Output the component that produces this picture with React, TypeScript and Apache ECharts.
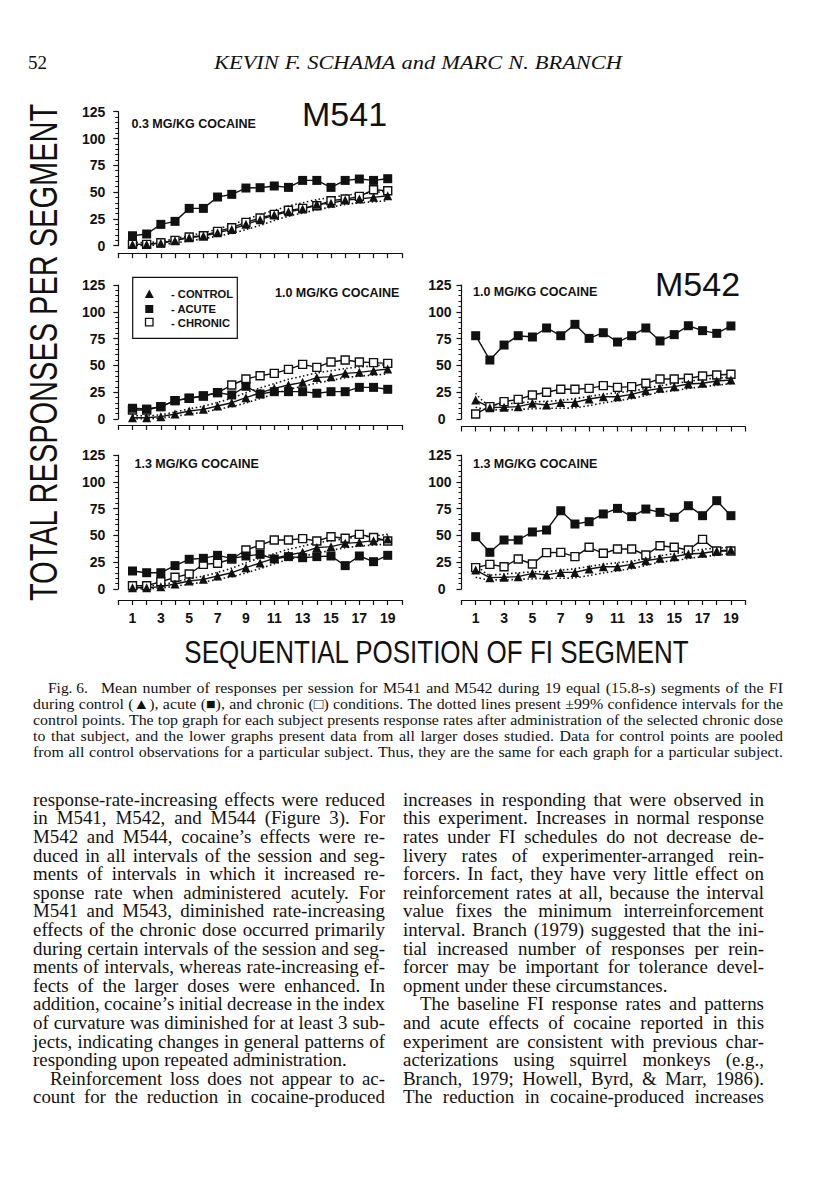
import React, { useEffect, useRef } from "react";
import * as echarts from "echarts";

// ---------- DATA ----------
const segments = [1, 2, 3, 4, 5, 6, 7, 8, 9, 10, 11, 12, 13, 14, 15, 16, 17, 18, 19];
const xTickLabels = ["1", "3", "5", "7", "9", "11", "13", "15", "17", "19"];
const yTickStep = 25;
const yMax = 125;

// M541 (control pooled, identical in each M541 graph)
const m541Control = [1.2, 1.2, 2.2, 4.7, 7.5, 9.0, 12.1, 15.2, 19.9, 24.3, 28.6, 31.7, 34.2, 38.6, 39.5, 42.6, 43.5, 45.1, 46.6];
const m541Upper = [3, 3, 4, 6.5, 9.5, 12, 15.5, 19.5, 24.5, 29, 33, 37, 40, 43, 45, 47, 48.5, 49.5, 51];
const m541Lower = [0, 0, 1, 2.5, 4.5, 6.5, 9, 11.5, 15, 19, 23.5, 27.5, 30.5, 33.5, 36, 38.5, 40, 41, 42];
const m541Acute03 = [9.3, 10.9, 19.9, 22.7, 34.8, 34.8, 45.4, 47.9, 53.8, 54.1, 55.7, 54.4, 60.9, 60.9, 54.4, 60.9, 62.2, 60.9, 62.5];
const m541Chronic03 = [1.2, 1.2, 2.8, 5, 8.1, 9.3, 13.4, 16.8, 21.8, 25.8, 29.2, 33, 34.8, 37.3, 42, 43.5, 46, 52.2, 51.3];
const m541Acute10 = [10, 9.3, 11.5, 17.1, 19.3, 21.5, 24.6, 22.4, 30.5, 23.3, 25.5, 25.5, 25.5, 24, 25.5, 25.5, 29.5, 29.5, 27.7];
const m541Chronic10 = [8.4, 8.4, 11.5, 17.1, 19.3, 21.5, 24.6, 31.7, 37.3, 40.4, 42.6, 46.3, 51, 48.2, 53.2, 55, 53.2, 52.6, 51.9];
const m541Acute13 = [16.8, 15.2, 15.2, 21.8, 27.7, 28.6, 31.4, 28.6, 30.8, 32.3, 28, 30.2, 29.2, 30.2, 30.8, 21.8, 30.8, 25.5, 31.4];
const m541Chronic13 = [3.1, 3.1, 6.8, 10.9, 14, 23, 24, 28, 36.4, 41, 45.7, 45.7, 47, 44.8, 48.8, 47.3, 51, 48, 44.8];

// M542
const m542Control = [17.7, 10.6, 10.9, 11.5, 14.6, 13, 15.5, 15.5, 18.7, 20.8, 20.8, 23, 26.4, 28.6, 30.2, 32.6, 33.3, 35.4, 36.4];
const m542Upper = [24, 13, 14, 15, 16, 16.5, 17.5, 19, 21, 23, 24.5, 26, 28.5, 31, 33, 35, 37, 38, 39];
const m542Lower = [11, 8.5, 8.5, 9, 9.5, 10, 10, 10.5, 12.5, 15, 17, 19, 22, 25, 26.5, 28.5, 30, 31.5, 33];
const m542Acute10 = [77.7, 55, 69, 77.7, 76.5, 84.9, 77.7, 88.3, 75.2, 80.5, 71.8, 77.7, 84.9, 72.8, 78.7, 87, 82.4, 79.9, 86.8];
const m542Chronic10 = [4.7, 11.5, 16.2, 18.3, 22.4, 24.9, 27.7, 27.7, 28.6, 31.1, 29.5, 30.2, 33.3, 37.3, 37.3, 38, 40.1, 41, 41.7];
const m542Acute13 = [48.8, 34.2, 45.7, 45.7, 53.2, 55, 73, 60.6, 62.8, 70, 75.2, 67.5, 74.6, 71.5, 66.9, 77.7, 68.4, 82.4, 68.4];
const m542Chronic13 = [19.9, 23, 20.8, 28, 23.3, 33.9, 34.2, 30.2, 38.9, 33.3, 37.3, 37.3, 31.7, 40.4, 38.9, 36.4, 46.3, 35.4, 35.4];

const seriesNames = ["CONTROL", "ACUTE", "CHRONIC"];
const panelTitles = ["0.3 MG/KG COCAINE", "1.0 MG/KG COCAINE", "1.3 MG/KG COCAINE", "1.0 MG/KG COCAINE", "1.3 MG/KG COCAINE"];
const subjectLabels = ["M541", "M542"];
const yAxisTitle = "TOTAL RESPONSES PER SEGMENT";
const xAxisTitle = "SEQUENTIAL POSITION OF FI SEGMENT";

// ---------- PAGE TEXT ----------
const pageNumber = "52";
const runningHead = "KEVIN F. SCHAMA and MARC N. BRANCH";
const captionLead = "Fig. 6.";
const captionLines = [
  "Mean number of responses per session for M541 and M542 during 19 equal (15.8-s) segments of the FI",
  "during control (\u25B2), acute (\u25A0), and chronic (\u25A1) conditions. The dotted lines present \u00B199% confidence intervals for the",
  "control points. The top graph for each subject presents response rates after administration of the selected chronic dose",
  "to that subject, and the lower graphs present data from all larger doses studied. Data for control points are pooled",
  "from all control observations for a particular subject. Thus, they are the same for each graph for a particular subject.",
];
const leftColumn = [
  "response-rate-increasing effects were reduced",
  "in M541, M542, and M544 (Figure 3). For",
  "M542 and M544, cocaine\u2019s effects were re-",
  "duced in all intervals of the session and seg-",
  "ments of intervals in which it increased re-",
  "sponse rate when administered acutely. For",
  "M541 and M543, diminished rate-increasing",
  "effects of the chronic dose occurred primarily",
  "during certain intervals of the session and seg-",
  "ments of intervals, whereas rate-increasing ef-",
  "fects of the larger doses were enhanced. In",
  "addition, cocaine\u2019s initial decrease in the index",
  "of curvature was diminished for at least 3 sub-",
  "jects, indicating changes in general patterns of",
  "responding upon repeated administration.",
  "Reinforcement loss does not appear to ac-",
  "count for the reduction in cocaine-produced",
];
const leftIndent = [15];
const leftParaEnd = [14];
const rightColumn = [
  "increases in responding that were observed in",
  "this experiment. Increases in normal response",
  "rates under FI schedules do not decrease de-",
  "livery rates of experimenter-arranged rein-",
  "forcers. In fact, they have very little effect on",
  "reinforcement rates at all, because the interval",
  "value fixes the minimum interreinforcement",
  "interval. Branch (1979) suggested that the ini-",
  "tial increased number of responses per rein-",
  "forcer may be important for tolerance devel-",
  "opment under these circumstances.",
  "The baseline FI response rates and patterns",
  "and acute effects of cocaine reported in this",
  "experiment are consistent with previous char-",
  "acterizations using squirrel monkeys (e.g.,",
  "Branch, 1979; Howell, Byrd, & Marr, 1986).",
  "The reduction in cocaine-produced increases",
];
const rightIndent = [11];
const rightParaEnd = [10];

// ---------- STYLE ----------
const SANS = '"Liberation Sans", Arial, Helvetica, sans-serif';
const SERIF = '"Liberation Serif", "Times New Roman", serif';
const INK = "#111";

function pts(vals: number[]) {
  return segments.map((s, i) => [s, vals[i]]);
}

let measureCtx: CanvasRenderingContext2D | null = null;
function measure(text: string, font: string) {
  if (!measureCtx) measureCtx = document.createElement("canvas").getContext("2d");
  measureCtx!.font = font;
  return measureCtx!.measureText(text).width;
}

// Places each word of a line; justified lines are spread between x0 and x1.
function lineWords(
  text: string,
  x0: number,
  x1: number,
  y: number,
  size: number,
  justify: boolean,
  hScale = 1,
  italic = false
) {
  const font = `${italic ? "italic " : ""}${size}px "Liberation Serif"`;
  const words = text.split(" ");
  const widths = words.map((w) => measure(w, font));
  const total = widths.reduce((a, b) => a + b, 0);
  const space = measure(" ", font);
  let s = hScale;
  let gap = space * s;
  if (justify && words.length > 1) {
    const minGap = space * 0.75;
    gap = (x1 - x0 - total * s) / (words.length - 1);
    if (gap < minGap) {
      gap = minGap;
      s = (x1 - x0 - minGap * (words.length - 1)) / total;
    }
  }
  let x = x0;
  return words.map((w, i) => {
    const el = {
      type: "text",
      x,
      y,
      scaleX: s,
      silent: true,
      style: {
        text: w,
        fill: INK,
        fontSize: size,
        fontFamily: SERIF,
        fontStyle: italic ? "italic" : "normal",
        align: "left",
        verticalAlign: "middle",
      },
    };
    x += widths[i] * s + gap;
    return el;
  });
}

function buildOption() {
  const panels = [
    { left: 118.3, top: 111.7, xOffset: 7.5, showX: false, right: false, ctrl: m541Control, up: m541Upper, lo: m541Lower, acute: m541Acute03, chronic: m541Chronic03 },
    { left: 118.3, top: 285, xOffset: 6, showX: false, right: false, ctrl: m541Control, up: m541Upper, lo: m541Lower, acute: m541Acute10, chronic: m541Chronic10 },
    { left: 118.3, top: 455, xOffset: 11, showX: true, right: false, ctrl: m541Control, up: m541Upper, lo: m541Lower, acute: m541Acute13, chronic: m541Chronic13 },
    { left: 461.5, top: 285, xOffset: 7.5, showX: false, right: true, ctrl: m542Control, up: m542Upper, lo: m542Lower, acute: m542Acute10, chronic: m542Chronic10 },
    { left: 461.5, top: 455, xOffset: 11, showX: true, right: true, ctrl: m542Control, up: m542Upper, lo: m542Lower, acute: m542Acute13, chronic: m542Chronic13 },
  ];

  const grid: any[] = [];
  const xAxis: any[] = [];
  const yAxis: any[] = [];
  const series: any[] = [];
  const axisLineStyle = { color: INK, width: 1.2 };

  panels.forEach((p, i) => {
    grid.push({ left: p.left, top: p.top, width: 283.6, height: 134 });
    xAxis.push({
      gridIndex: i,
      type: "value",
      min: 0,
      max: 20,
      interval: 1,
      offset: p.xOffset,
      axisLine: { show: true, onZero: false, lineStyle: axisLineStyle },
      axisTick: { show: true, length: 5, lineStyle: axisLineStyle },
      splitLine: { show: false },
      axisLabel: {
        show: p.showX,
        margin: 11,
        fontSize: 14,
        fontWeight: "bold",
        fontFamily: SANS,
        color: INK,
        formatter: (v: number) => (xTickLabels.indexOf(String(v)) >= 0 ? String(v) : ""),
      },
    });
    yAxis.push({
      gridIndex: i,
      type: "value",
      min: 0,
      max: yMax,
      interval: yTickStep,
      axisLine: { show: true, lineStyle: axisLineStyle },
      axisTick: { show: true, length: 5, lineStyle: axisLineStyle },
      minorTick: { show: true, splitNumber: 5, length: 3, lineStyle: { color: INK, width: 1 } },
      splitLine: { show: false },
      minorSplitLine: { show: false },
      axisLabel: {
        margin: p.right ? 10 : 13,
        fontSize: 14,
        fontWeight: "bold",
        fontFamily: SANS,
        color: INK,
        formatter: (v: number) => (p.right && v === 0 ? "{z|0}" : String(v)),
        rich: { z: { fontSize: 14, fontWeight: "bold", fontFamily: SANS, color: INK, padding: [0, 6, 0, 0] } },
      },
    });
    const common = { xAxisIndex: i, yAxisIndex: i, silent: true };
    series.push({ ...common, type: "line", name: "CI upper", data: pts(p.up), symbol: "none", smooth: 0.3, lineStyle: { color: INK, width: 1.6, type: [1.5, 2.5] } });
    series.push({ ...common, type: "line", name: "CI lower", data: pts(p.lo), symbol: "none", smooth: 0.3, lineStyle: { color: INK, width: 1.6, type: [1.5, 2.5] } });
    series.push({ ...common, type: "line", name: seriesNames[2], data: pts(p.chronic), symbol: "rect", symbolSize: 8, lineStyle: { color: INK, width: 1.4 }, itemStyle: { color: "#fff", borderColor: INK, borderWidth: 1.4 } });
    series.push({ ...common, type: "line", name: seriesNames[1], data: pts(p.acute), symbol: "rect", symbolSize: 9, lineStyle: { color: INK, width: 1.4 }, itemStyle: { color: INK } });
    series.push({ ...common, type: "line", name: seriesNames[0], data: pts(p.ctrl), symbol: "triangle", symbolSize: 9, lineStyle: { color: INK, width: 1.4 }, itemStyle: { color: INK } });
  });

  const g: any[] = [];
  const sansText = (text: string, x: number, y: number, size: number, weight = "bold", align = "left") => ({
    type: "text",
    x,
    y,
    silent: true,
    style: { text, fill: INK, fontSize: size, fontWeight: weight, fontFamily: SANS, align, verticalAlign: "middle" },
  });

  // panel titles
  const titlePos = [
    [131.5, 124],
    [275, 293],
    [134.5, 464],
    [473, 292],
    [473, 464],
  ];
  panelTitles.forEach((t, i) => g.push(sansText(t, titlePos[i][0], titlePos[i][1], 12.5)));
  // subject labels
  g.push(sansText(subjectLabels[0], 302, 114, 34, "normal"));
  g.push(sansText(subjectLabels[1], 655, 284, 34, "normal"));

  // legend box
  g.push({ type: "rect", silent: true, shape: { x: 132.7, y: 277.3, width: 104.6, height: 61 }, style: { fill: "#fff", stroke: INK, lineWidth: 1.2 } });
  g.push({ type: "polygon", silent: true, shape: { points: [[149.3, 289.5], [144.8, 298], [153.8, 298]] }, style: { fill: INK } });
  g.push({ type: "rect", silent: true, shape: { x: 145.3, y: 305, width: 8, height: 8 }, style: { fill: INK } });
  g.push({ type: "rect", silent: true, shape: { x: 145.5, y: 318.3, width: 7.5, height: 7.5 }, style: { fill: "#fff", stroke: INK, lineWidth: 1.3 } });
  g.push(sansText("- " + seriesNames[0], 171, 294, 11.2));
  g.push(sansText("- " + seriesNames[1], 171, 309, 11.2));
  g.push(sansText("- " + seriesNames[2], 171, 322.5, 11.2));

  // axis titles
  g.push({
    type: "text",
    x: 43,
    y: 352.5,
    rotation: Math.PI / 2,
    scaleX: 1,
    scaleY: 1.35,
    silent: true,
    style: { text: yAxisTitle, fill: INK, fontSize: 29, fontFamily: SANS, align: "center", verticalAlign: "middle" },
  });
  g.push({
    type: "text",
    x: 436.5,
    y: 652,
    scaleX: 1,
    scaleY: 1.2,
    silent: true,
    style: { text: xAxisTitle, fill: INK, fontSize: 26, fontFamily: SANS, align: "center", verticalAlign: "middle" },
  });

  // running head
  g.push(...lineWords(pageNumber, 28, 48, 62, 19, false));
  g.push(...lineWords(runningHead, 214, 622, 62, 19, true, 1.18, true));

  // caption
  g.push(...lineWords(captionLead, 48, 95, 688, 15, false, 1.03));
  captionLines.forEach((t, i) => {
    const x0 = i === 0 ? 101 : 33;
    g.push(...lineWords(t, x0, 783, 688 + i * 16, 15, true, 1.06));
  });

  // body columns
  leftColumn.forEach((t, i) => {
    const x0 = leftIndent.indexOf(i) >= 0 ? 50 : 33;
    g.push(...lineWords(t, x0, 385, 800 + i * 18.6, 18, leftParaEnd.indexOf(i) < 0, 1.05));
  });
  rightColumn.forEach((t, i) => {
    const x0 = rightIndent.indexOf(i) >= 0 ? 420 : 403;
    g.push(...lineWords(t, x0, 764, 800 + i * 18.6, 18, rightParaEnd.indexOf(i) < 0, 1.05));
  });

  return {
    animation: false,
    backgroundColor: "#fff",
    grid,
    xAxis,
    yAxis,
    series,
    graphic: { elements: g },
  };
}

export default function App() {
  const ref = useRef<HTMLDivElement>(null);
  useEffect(() => {
    const chart = echarts.init(ref.current!, null, { renderer: "svg" });
    chart.setOption(buildOption() as any);
    return () => chart.dispose();
  }, []);
  return (
    <div
      ref={ref}
      style={{ position: "absolute", left: 0, top: 0, width: 816, height: 1200, background: "#fff" }}
    />
  );
}
